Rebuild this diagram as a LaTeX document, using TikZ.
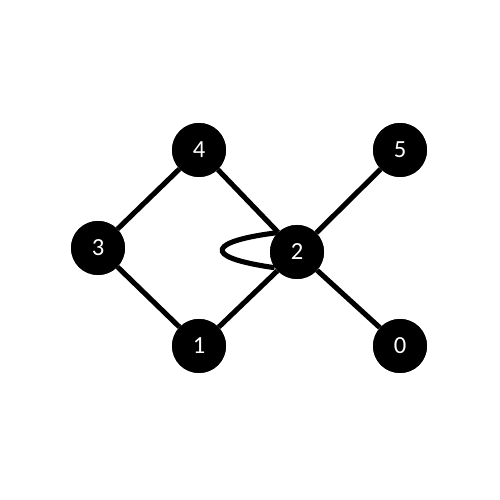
\documentclass[tikz,border=0pt]{standalone}
\usepackage{fontspec}
\setsansfont{Carlito}
\begin{document}
\begin{tikzpicture}[
  vtx/.style={circle, fill=black, draw=none, minimum size=1.08cm, inner sep=0pt,
              text=white, font=\sffamily\fontsize{14}{16}\selectfont},
  edge/.style={line width=2.9pt, black},
]
\useasboundingbox (0,0) rectangle (10,10);
\node[vtx] (n4) at (3.98, 7.00) {4};
\node[vtx] (n5) at (8.00, 7.00) {5};
\node[vtx] (n3) at (1.96, 5.04) {3};
\node[vtx] (n2) at (5.94, 4.96) {2};
\node[vtx] (n1) at (3.98, 3.08) {1};
\node[vtx] (n0) at (8.00, 3.08) {0};

\foreach \a/\b in {n3/n4, n3/n1, n4/n2, n1/n2, n2/n5, n2/n0}
  \draw[edge] (\a) -- (\b);
% self loop on 2
\draw[edge] (n2.135) .. controls +(-1.32,-0.16) and +(-1.55,0.22) .. (n2.215);

% redraw vertices on top of the lines
\foreach \nd/\lbl in {n4/4, n5/5, n3/3, n2/2, n1/1, n0/0}
  \node[vtx] at (\nd) {\lbl};
\end{tikzpicture}
\end{document}
